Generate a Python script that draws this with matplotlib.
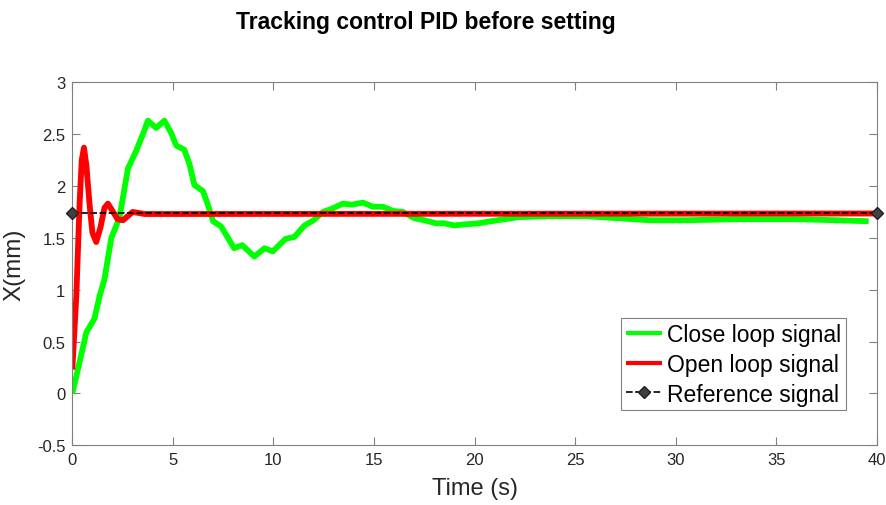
import numpy as np
import matplotlib.pyplot as plt

# closed loop response (green)
t_close = [0.0, 0.36, 0.7, 1.1, 1.36, 1.6, 1.94, 2.34, 2.6, 2.77, 3.18, 3.51, 3.76,
           4.17, 4.58, 4.92, 5.17, 5.57, 5.83, 6.07, 6.5, 6.74, 7.0, 7.4, 7.74, 8.05,
           8.45, 9.05, 9.56, 9.97, 10.6, 11.05, 11.55, 12.0, 12.46, 12.9, 13.45, 13.9,
           14.45, 14.95, 15.45, 15.95, 16.45, 17.0, 17.5, 18.1, 18.5, 19.0, 19.5,
           20.2, 20.8, 21.5, 22.2, 23.8, 25.5, 27.1, 28.7, 30.5, 33.0, 36.0, 38.0, 39.6]
x_close = [0.0, 0.30, 0.59, 0.72, 0.94, 1.10, 1.50, 1.69, 1.98, 2.17, 2.34, 2.50, 2.63,
           2.56, 2.63, 2.51, 2.39, 2.35, 2.21, 2.01, 1.95, 1.82, 1.66, 1.61, 1.50, 1.40,
           1.43, 1.32, 1.40, 1.37, 1.49, 1.51, 1.62, 1.67, 1.75, 1.78, 1.83, 1.82,
           1.84, 1.80, 1.80, 1.76, 1.75, 1.69, 1.67, 1.64, 1.64, 1.62, 1.63,
           1.64, 1.66, 1.68, 1.70, 1.71, 1.71, 1.69, 1.67, 1.67, 1.68, 1.68, 1.67, 1.66]

# open loop response (red)
t_open = [0.0, 0.2, 0.36, 0.47, 0.58, 0.7, 0.86, 1.0, 1.19, 1.4, 1.6, 1.77, 2.0,
          2.25, 2.52, 3.0, 3.6, 40.0]
x_open = [0.23, 0.94, 1.82, 2.25, 2.37, 2.20, 1.82, 1.55, 1.46, 1.60, 1.79, 1.83, 1.76,
          1.68, 1.67, 1.75, 1.73, 1.735]

# reference setpoint
t_ref = [0, 40]
x_ref = [1.735, 1.735]

plt.rcParams['font.family'] = ['Liberation Sans', 'DejaVu Sans']

fig = plt.figure(figsize=(8.86, 5.06), dpi=100)
ax = fig.add_axes([72.3 / 886, 1 - 446.3 / 506, 804.4 / 886, 363 / 506])

ax.plot(t_close, x_close, color='#00ff00', lw=4.2, solid_joinstyle='round',
        solid_capstyle='butt', label='Close loop signal')
ax.plot(t_open, x_open, color='#ff0000', lw=4.2, solid_joinstyle='round',
        solid_capstyle='butt', label='Open loop signal')
ax.plot(t_ref, x_ref, color='black', lw=1.2, ls=(0, (4, 1.5)), marker='D',
        markersize=6.5, markerfacecolor='#404040', markeredgecolor='#202020',
        label='Reference signal', clip_on=False, zorder=5)

ax.set_xlim(0, 40)
ax.set_ylim(-0.5, 3)
ax.set_xticks(np.arange(0, 41, 5))
ax.set_yticks(np.arange(-0.5, 3.01, 0.5))
ax.set_yticklabels(['-0.5', '0', '0.5', '1', '1.5', '2', '2.5', '3'])

for s in ax.spines.values():
    s.set_color('#808080')
    s.set_linewidth(0.8)
ax.tick_params(direction='in', length=5.5, width=0.8, color='#808080',
               labelcolor='#262626', labelsize=12, top=True, right=True, pad=5)

ax.set_xlabel('Time (s)', fontsize=17, color='#262626', labelpad=7)
ax.set_ylabel('X(mm)', fontsize=17.5, color='#262626', labelpad=8)

fig.text(426 / 886, 1 - 22 / 506, 'Tracking control PID before setting',
         ha='center', va='center', fontsize=16.5, fontweight='bold')

leg = ax.legend(loc='lower right', bbox_to_anchor=(0.9615, 0.097), fontsize=16.5,
                frameon=True, fancybox=False, framealpha=1, edgecolor='#808080',
                handlelength=1.6, handletextpad=0.2, borderpad=0.2,
                labelspacing=0.3, borderaxespad=0)
leg.get_frame().set_linewidth(0.8)
for h in leg.get_lines()[:2]:
    h.set_linewidth(3)

fig.savefig('out.png', dpi=100)
